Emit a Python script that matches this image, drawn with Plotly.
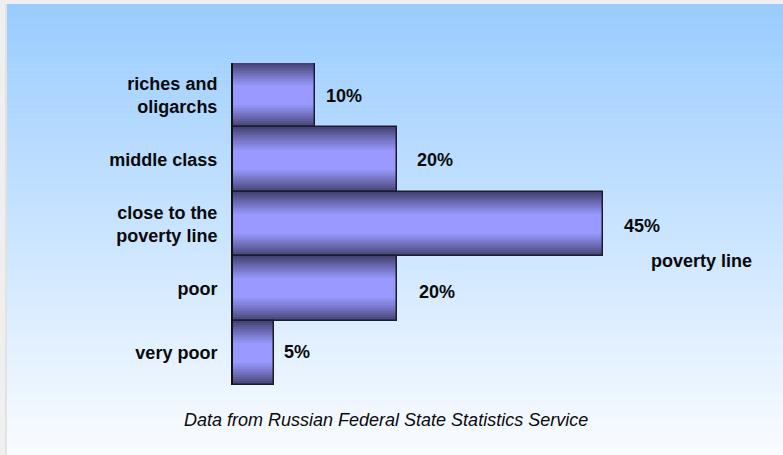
import plotly.graph_objects as go

# ---- data ----
categories = ["riches and<br>oligarchs", "middle class", "close to the<br>poverty line", "poor", "very poor"]
values = [10, 20, 45, 20, 5]
value_labels = ["10%", "20%", "45%", "20%", "5%"]
caption = "Data from Russian Federal State Statistics Service"
line_label = "poverty line"

# ---- style ----
FONT = "Liberation Sans, Arial, sans-serif"
FS = 18
label_xshift = [9, 18, 19, 20, 8]
label_yshift = [-1, 0, -2, -4, 1]

def lerp(c1, c2, t):
    return tuple(round(a + (b - a) * t) for a, b in zip(c1, c2))

def rgb(c):
    return "rgb(%d,%d,%d)" % c

dark = (70, 68, 118)
light = (153, 153, 255)

fig = go.Figure()

# bar gradient via overlaid bars of decreasing thickness
N = 16
for k in range(N):
    w = 1.0 - k / N
    t = max(0.0, (w - 0.3) / 0.7)
    col = lerp(light, dark, t ** 1.1)
    fig.add_trace(go.Bar(
        x=values, y=categories, orientation="h", width=w,
        marker=dict(color=rgb(col), line=dict(width=0)),
        hoverinfo="skip", showlegend=False,
    ))
# outline
fig.add_trace(go.Bar(
    x=values, y=categories, orientation="h", width=1.0,
    marker=dict(color="rgba(0,0,0,0)", line=dict(color="#1c1c30", width=1.5)),
    hoverinfo="skip", showlegend=False,
))

# background gradient panel (paper coords)
L, R_, W_, T_, B_ = 233, 57, 783, 63, 70
pw = W_ - L - R_
ph = 455 - T_ - B_
def px_x(p):
    return (p - L) / pw
def px_y(p):
    return (455 - B_ - p) / ph

shapes = []
top_c = (153, 204, 255)
bot_c = (250, 252, 255)
y0p, y1p = 4, 455
S = 90
for i in range(S):
    a = y0p + (y1p - y0p) * i / S
    b = y0p + (y1p - y0p) * (i + 1) / S + 0.6
    col = lerp(top_c, bot_c, (i + 0.5) / S)
    shapes.append(dict(type="rect", xref="paper", yref="paper",
                       x0=px_x(7), x1=px_x(790), y0=px_y(min(b, 460)), y1=px_y(a),
                       fillcolor=rgb(col), line=dict(width=0), layer="below"))
shapes.append(dict(type="rect", xref="paper", yref="paper",
                   x0=px_x(5), x1=px_x(7), y0=px_y(460), y1=px_y(4),
                   fillcolor="#e2e2e2", line=dict(width=0), layer="below"))

annotations = []
for v, lab, xs, ys, c in zip(values, value_labels, label_xshift, label_yshift, categories):
    annotations.append(dict(x=v, y=c, xref="x", yref="y", text=lab, showarrow=False,
                            xanchor="left", yanchor="middle", xshift=xs, yshift=ys,
                            font=dict(family=FONT, size=FS, color="#0a0a0a", weight="bold")))
annotations.append(dict(x=px_x(649), y=px_y(261), xref="paper", yref="paper", text=line_label,
                        showarrow=False, xanchor="left", yanchor="middle",
                        font=dict(family=FONT, size=FS, color="#0a0a0a", weight="bold")))
annotations.append(dict(x=px_x(386), y=px_y(420), xref="paper", yref="paper", text=caption,
                        showarrow=False, xanchor="center", yanchor="middle",
                        font=dict(family=FONT, size=FS, color="#0a0a0a", style="italic")))

fig.update_layout(
    width=783, height=455,
    margin=dict(l=L, r=R_, t=T_, b=B_),
    paper_bgcolor="#efefef", plot_bgcolor="rgba(0,0,0,0)",
    barmode="overlay", bargap=0,
    shapes=shapes, annotations=annotations,
    xaxis=dict(range=[0, 60], visible=False, fixedrange=True),
    yaxis=dict(categoryorder="array", categoryarray=categories, autorange="reversed",
               showline=True, linecolor="#111111", linewidth=2, showgrid=False,
               ticks="", ticklabelstandoff=10,
               tickfont=dict(family=FONT, size=FS, color="#0a0a0a", weight="bold"),
               fixedrange=True),
)

fig.write_html("out.html", config={"displayModeBar": False},
               post_script="document.body.style.margin='0px';document.body.style.overflow='hidden';")
